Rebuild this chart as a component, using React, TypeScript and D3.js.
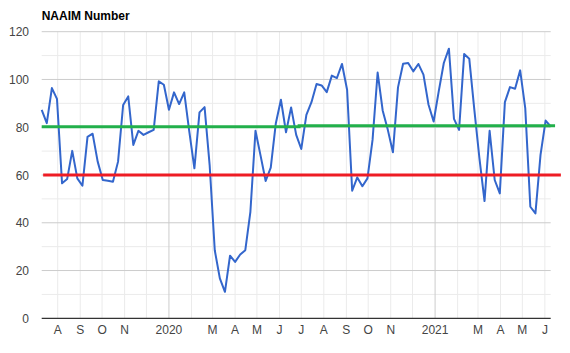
import React from "react";
import * as d3 from "d3";

// ---- data ----
const startDate = "2019-07-10"; // first weekly reading
const naaimValues: number[] = [
  87.3, 81.7, 96.4, 91.9, 56.5, 58.3, 70.1, 58.6, 55.5, 76.0,
  77.3, 65.6, 57.9, 57.6, 57.2, 65.6, 89.3, 92.9, 72.6, 78.5,
  76.8, 77.9, 78.9, 99.2, 97.8, 87.3, 94.6, 89.7, 94.6, 78.2,
  62.8, 86.2, 88.4, 64.0, 28.5, 16.7, 11.1, 26.2, 23.6, 26.7,
  28.5, 44.6, 78.5, 68.1, 57.5, 63.1, 81.7, 91.5, 77.9, 88.3,
  76.8, 70.9, 85.2, 90.5, 98.1, 97.5, 94.7, 101.6, 100.6, 106.5,
  95.7, 53.4, 59.0, 55.3, 58.6, 74.7, 102.9, 86.9, 78.9, 69.5,
  96.7, 106.6, 106.9, 103.4, 106.5, 102.0, 89.4, 82.4, 95.0, 106.9,
  112.9, 83.5, 78.9, 110.7, 108.7, 87.3, 67.0, 49.1, 78.5, 57.9,
  52.3, 90.5, 96.8, 96.1, 103.8, 88.0, 46.7, 43.9, 68.4, 82.8,
  80.3,
];
const greenDates = ["2019-07-10", "2020-06-28", "2020-06-28", "2021-06-15"];
const greenValues = [80.2, 80.2, 80.6, 80.6];
const redDates = ["2019-07-12", "2021-06-23"];
const redValues = [60, 60];

const monthTicks = [
  "2019-08-01", "2019-09-01", "2019-10-01", "2019-11-01", "2019-12-01",
  "2020-01-01", "2020-02-01", "2020-03-01", "2020-04-01", "2020-05-01",
  "2020-06-01", "2020-07-01", "2020-08-01", "2020-09-01", "2020-10-01",
  "2020-11-01", "2020-12-01", "2021-01-01", "2021-02-01", "2021-03-01",
  "2021-04-01", "2021-05-01", "2021-06-01",
];
const monthLabels = [
  "A", "S", "O", "N", "",
  "2020", "", "M", "A", "M",
  "J", "J", "A", "S", "O",
  "N", "", "2021", "", "M",
  "A", "M", "J",
];
const yTicks = [0, 20, 40, 60, 80, 100, 120];
const yMinorTicks = [10, 30, 50, 70, 90, 110];
const title = "NAAIM Number";

const W = 570;
const H = 353;
const plotLeft = 41.7;
const plotRight = 550.7;
const plotTop = 31.7;
const plotBottom = 318.3;

export default function App() {
  const parse = (s: string) => new Date(s + "T00:00:00Z");
  const start = parse(startDate);
  const dates = naaimValues.map((_, i) => d3.utcDay.offset(start, i * 7));
  const x = d3
    .scaleUtc()
    .domain([dates[0], dates[dates.length - 1]])
    .range([plotLeft, plotRight]);
  const y = d3.scaleLinear().domain([0, 120]).range([plotBottom, plotTop]);

  const line = d3
    .line<[Date, number]>()
    .x((d) => x(d[0]))
    .y((d) => y(d[1]));

  const mainPts: [Date, number][] = dates.map((d, i) => [d, naaimValues[i]]);
  const greenPts: [Date, number][] = greenDates.map((d, i) => [parse(d), greenValues[i]]);
  const redPts: [Date, number][] = redDates.map((d, i) => [parse(d), redValues[i]]);

  const font = "Arial, 'Liberation Sans', sans-serif";
  const isYear = (s: string) => s.endsWith("-01-01");

  return (
    <svg
      width={W}
      height={H}
      style={{ position: "absolute", left: 0, top: 0, background: "#fff" }}
      fontFamily={font}
    >
      <rect x={0} y={0} width={W} height={H} fill="#fff" />
      {/* minor horizontal gridlines */}
      {yMinorTicks.map((t) => (
        <line key={"ym" + t} x1={plotLeft} x2={plotRight} y1={y(t)} y2={y(t)} stroke="#ebebeb" strokeWidth={1} />
      ))}
      {/* vertical month gridlines */}
      {monthTicks.map((m) => (
        <line
          key={"xm" + m}
          x1={x(parse(m))}
          x2={x(parse(m))}
          y1={plotTop}
          y2={plotBottom}
          stroke={isYear(m) ? "#cccccc" : "#ebebeb"}
          strokeWidth={1}
        />
      ))}
      {/* major horizontal gridlines */}
      {yTicks.filter((t) => t !== 0).map((t) => (
        <line key={"y" + t} x1={plotLeft} x2={plotRight} y1={y(t)} y2={y(t)} stroke="#cccccc" strokeWidth={1} />
      ))}
      {/* baseline */}
      <line x1={plotLeft} x2={plotRight} y1={y(0)} y2={y(0)} stroke="#333333" strokeWidth={1.2} />

      {/* y labels */}
      {yTicks.map((t) => (
        <text key={"yl" + t} x={29} y={y(t) + 4.5} textAnchor="end" fontSize={12} fill="#444444">
          {t}
        </text>
      ))}
      {/* x labels */}
      {monthTicks.map((m, i) =>
        monthLabels[i] ? (
          <text key={"xl" + m} x={x(parse(m))} y={334} textAnchor="middle" fontSize={12} fill="#444444">
            {monthLabels[i]}
          </text>
        ) : null
      )}

      {/* main series */}
      <path d={line(mainPts) || ""} fill="none" stroke="#3366cc" strokeWidth={2} strokeLinejoin="round" />
      {/* reference lines */}
      <path d={line(greenPts) || ""} fill="none" stroke="#22b04b" strokeWidth={3} />
      <path d={line(redPts) || ""} fill="none" stroke="#ee1c24" strokeWidth={3} />

      {/* title */}
      <text x={41.7} y={20} fontSize={12} fontWeight="bold" fill="#000000">
        {title}
      </text>
    </svg>
  );
}
